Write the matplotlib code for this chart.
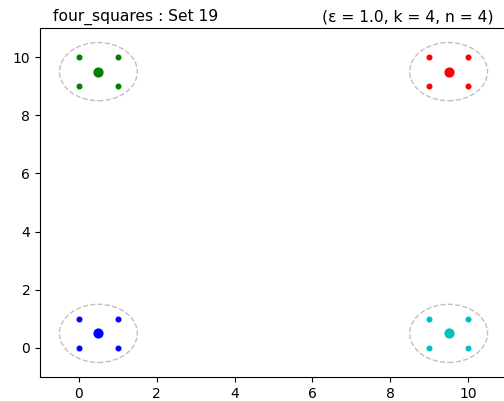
import matplotlib
matplotlib.use("Agg")
import matplotlib.pyplot as plt
from matplotlib.patches import Circle

cluster_colors = ["b", "g", "r", "c"]
points_x = [[0, 0, 1, 1], [0, 0, 1, 1], [9, 9, 10, 10], [9, 9, 10, 10]]
points_y = [[0, 1, 0, 1], [9, 10, 9, 10], [9, 10, 9, 10], [0, 1, 0, 1]]
centroids_x = [0.5, 0.5, 9.5, 9.5]
centroids_y = [0.5, 9.5, 9.5, 0.5]
epsilon = 1.0

fig = plt.figure(figsize=(5.04, 4.01), dpi=100)
ax = fig.add_axes([40/504, 24/401, 467/504, 349/401])

for c, px, py, cx, cy in zip(cluster_colors, points_x, points_y, centroids_x, centroids_y):
    ax.scatter(px, py, s=11, color=c, zorder=3)
    ax.scatter([cx], [cy], s=40, color=c, zorder=3)
    ax.add_patch(Circle((cx, cy), epsilon, fill=False, edgecolor="silver",
                        linestyle="--", linewidth=1))

ax.set_xlim(-1, 11)
ax.set_ylim(-1, 11)
ax.set_xticks([0, 2, 4, 6, 8, 10])
ax.set_yticks([0, 2, 4, 6, 8, 10])
fig.text(53/504, 1 - 21/401, "four_squares : Set 19", ha="left", va="baseline", fontsize=11.2)
fig.text(493/504, 1 - 21/401, "(ε = 1.0, k = 4, n = 4)", ha="right", va="baseline", fontsize=11.2)

fig.savefig("out.png", dpi=100)
